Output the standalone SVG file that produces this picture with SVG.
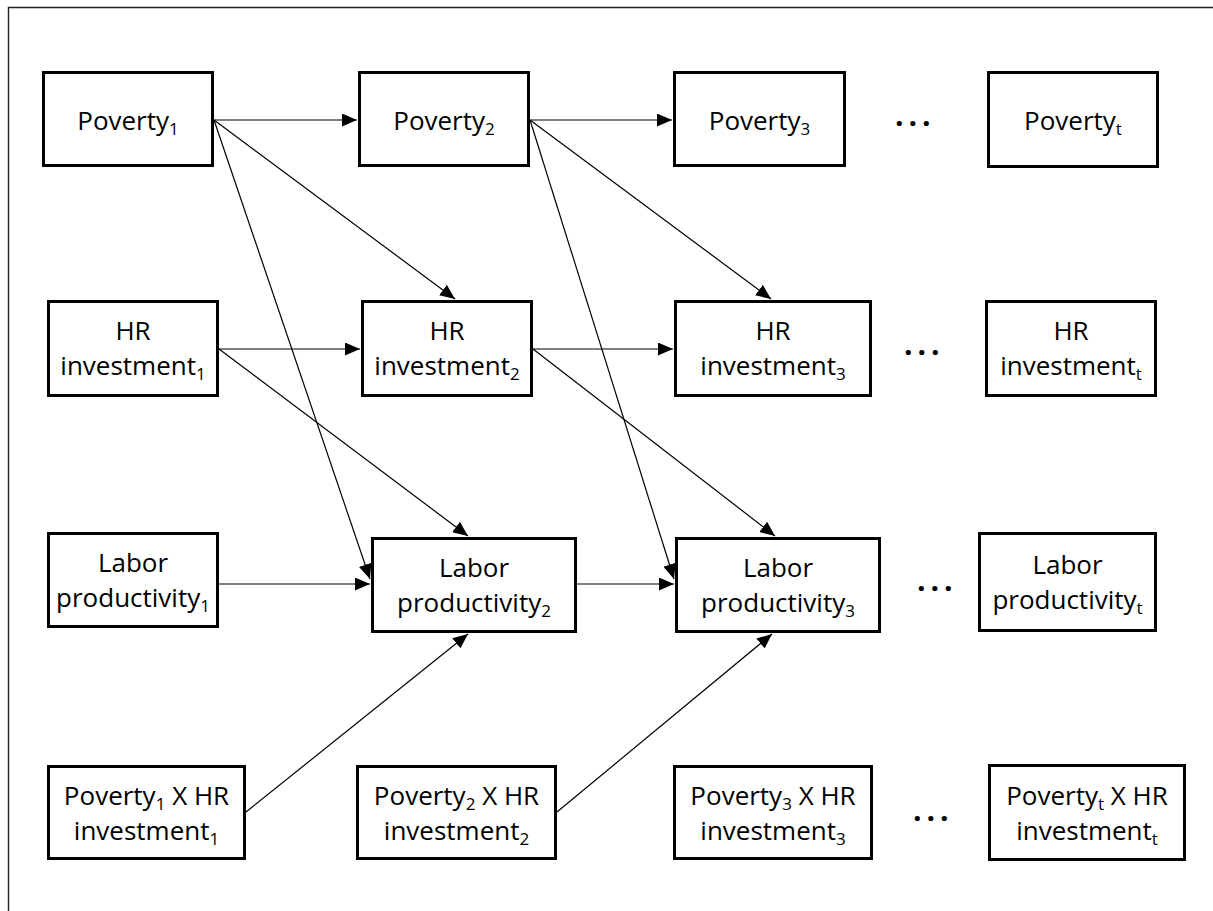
<svg xmlns="http://www.w3.org/2000/svg" width="1213" height="911" viewBox="0 0 1213 911">
<style>
.box{fill:#fff;stroke:#000;stroke-width:3}
.t{font-family:"Open Sans","Liberation Sans",sans-serif;font-size:26px;fill:#000;text-anchor:middle}
.s{font-size:17px}
.c{stroke:#000;stroke-width:1.2;fill:none;marker-end:url(#ah)}
.dots{font-family:"Open Sans","Liberation Sans",sans-serif;font-size:30px;font-weight:bold;fill:#000;letter-spacing:5px}
</style>
<defs>
<marker id="ah" viewBox="0 0 15 13" refX="15" refY="6.5" markerWidth="15" markerHeight="13" markerUnits="userSpaceOnUse" orient="auto">
<path d="M0,0 L15,6.5 L0,13 z" fill="#000"/>
</marker>
</defs>
<rect width="1213" height="911" fill="#fff"/>
<path d="M8.5,911 L8.5,7.5 L1213,7.5" fill="none" stroke="#222" stroke-width="1.4"/>

<g id="connectors">
<line class="c" x1="214" y1="120" x2="357" y2="120"/>
<line class="c" x1="530" y1="120" x2="672" y2="120"/>
<line class="c" x1="214" y1="120" x2="455" y2="299"/>
<line class="c" x1="214" y1="120" x2="370" y2="579"/>
<line class="c" x1="219" y1="349" x2="360" y2="349"/>
<line class="c" x1="219" y1="349" x2="468" y2="536"/>
<line class="c" x1="219" y1="584" x2="370" y2="584"/>
<line class="c" x1="246" y1="812" x2="468" y2="634"/>
<line class="c" x1="530" y1="120" x2="771" y2="299"/>
<line class="c" x1="530" y1="120" x2="674" y2="579"/>
<line class="c" x1="533" y1="349" x2="673" y2="349"/>
<line class="c" x1="533" y1="349" x2="775" y2="536"/>
<line class="c" x1="577" y1="584" x2="674" y2="584"/>
<line class="c" x1="557" y1="812" x2="772" y2="634"/>
</g>

<g id="poverty1"><rect class="box" x="43.5" y="72.5" width="169" height="93"/>
<text class="t" x="128" y="130">Poverty<tspan class="s" baseline-shift="-5">1</tspan></text></g>
<g id="poverty2"><rect class="box" x="359.5" y="72.5" width="169" height="93"/>
<text class="t" x="444" y="130">Poverty<tspan class="s" baseline-shift="-5">2</tspan></text></g>
<g id="poverty3"><rect class="box" x="674.5" y="72.5" width="170" height="93"/>
<text class="t" x="759.5" y="130">Poverty<tspan class="s" baseline-shift="-5">3</tspan></text></g>
<g id="povertyt"><rect class="box" x="988.5" y="72.5" width="169" height="94"/>
<text class="t" x="1073" y="130">Poverty<tspan class="s" baseline-shift="-5">t</tspan></text></g>

<g id="hr1"><rect class="box" x="48.5" y="301.5" width="169" height="94"/>
<text class="t" x="133" y="340">HR</text>
<text class="t" x="133" y="375">investment<tspan class="s" baseline-shift="-5">1</tspan></text></g>
<g id="hr2"><rect class="box" x="362.5" y="301.5" width="169" height="94"/>
<text class="t" x="447" y="340">HR</text>
<text class="t" x="447" y="375">investment<tspan class="s" baseline-shift="-5">2</tspan></text></g>
<g id="hr3"><rect class="box" x="675.5" y="301.5" width="195" height="94"/>
<text class="t" x="773" y="340">HR</text>
<text class="t" x="773" y="375">investment<tspan class="s" baseline-shift="-5">3</tspan></text></g>
<g id="hrt"><rect class="box" x="986.5" y="301.5" width="169" height="94"/>
<text class="t" x="1071" y="340">HR</text>
<text class="t" x="1071" y="375">investment<tspan class="s" baseline-shift="-5">t</tspan></text></g>

<g id="lp1"><rect class="box" x="48.5" y="533.5" width="169" height="93"/>
<text class="t" x="133" y="572">Labor</text>
<text class="t" x="133" y="607">productivity<tspan class="s" baseline-shift="-5">1</tspan></text></g>
<g id="lp2"><rect class="box" x="372.5" y="538.5" width="203" height="93"/>
<text class="t" x="474" y="577">Labor</text>
<text class="t" x="474" y="612">productivity<tspan class="s" baseline-shift="-5">2</tspan></text></g>
<g id="lp3"><rect class="box" x="676.5" y="538.5" width="203" height="93"/>
<text class="t" x="778" y="577">Labor</text>
<text class="t" x="778" y="612">productivity<tspan class="s" baseline-shift="-5">3</tspan></text></g>
<g id="lpt"><rect class="box" x="979.5" y="533.5" width="176" height="97"/>
<text class="t" x="1067.5" y="574">Labor</text>
<text class="t" x="1067.5" y="609">productivity<tspan class="s" baseline-shift="-5">t</tspan></text></g>

<g id="px1"><rect class="box" x="48.5" y="766.5" width="196" height="92"/>
<text class="t" x="146.5" y="805">Poverty<tspan class="s" baseline-shift="-5">1</tspan> X HR</text>
<text class="t" x="146.5" y="840">investment<tspan class="s" baseline-shift="-5">1</tspan></text></g>
<g id="px2"><rect class="box" x="357.5" y="766.5" width="198" height="92"/>
<text class="t" x="456.5" y="805">Poverty<tspan class="s" baseline-shift="-5">2</tspan> X HR</text>
<text class="t" x="456.5" y="840">investment<tspan class="s" baseline-shift="-5">2</tspan></text></g>
<g id="px3"><rect class="box" x="674.5" y="766.5" width="197" height="92"/>
<text class="t" x="773" y="805">Poverty<tspan class="s" baseline-shift="-5">3</tspan> X HR</text>
<text class="t" x="773" y="840">investment<tspan class="s" baseline-shift="-5">3</tspan></text></g>
<g id="pxt"><rect class="box" x="989.5" y="765.5" width="195" height="94"/>
<text class="t" x="1087" y="805">Poverty<tspan class="s" baseline-shift="-5">t</tspan> X HR</text>
<text class="t" x="1087" y="840">investment<tspan class="s" baseline-shift="-5">t</tspan></text></g>

<g id="ellipses">
<text class="dots" x="895" y="126">...</text>
<text class="dots" x="904" y="355">...</text>
<text class="dots" x="917" y="591">...</text>
<text class="dots" x="913" y="821">...</text>
</g>
</svg>
